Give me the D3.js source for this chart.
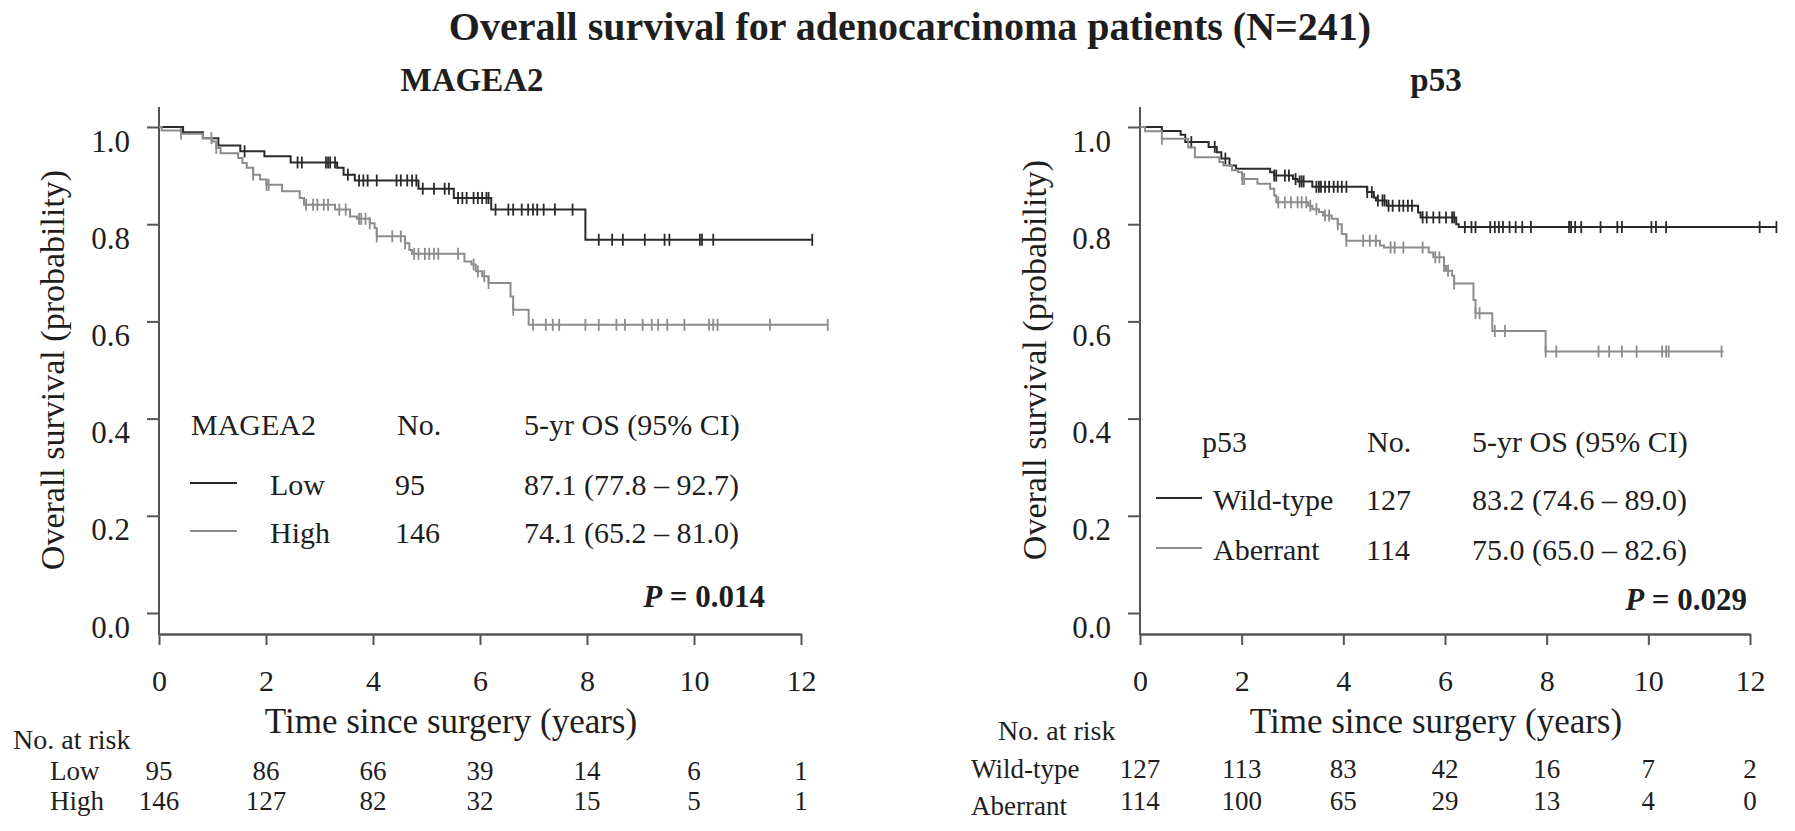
<!DOCTYPE html>
<html>
<head>
<meta charset="utf-8">
<script src="https://cdn.jsdelivr.net/npm/d3@7/dist/d3.min.js"></script>
<style>
  html, body { margin: 0; padding: 0; background: #fff; }
  svg { display: block; }
  text { font-family: "Liberation Serif", "Times New Roman", serif; fill: #1e1e1e; }
</style>
</head>
<body>
<svg id="chart" width="1795" height="831"></svg>
<script>
// ---------------- DATA ----------------
const timeTicks = [0, 2, 4, 6, 8, 10, 12];
const probTicks = [0, 0.2, 0.4, 0.6, 0.8, 1.0];

// MAGEA2 Low: [time (years), survival after event]
const magea2LowSteps = [[0.45,0.989],[0.82,0.977],[1.11,0.962],[1.52,0.950],[1.97,0.940],[2.46,0.927],
  [3.33,0.916],[3.45,0.902],[3.66,0.890],[4.85,0.873],[5.51,0.854],[6.21,0.830],[7.97,0.768]];
const magea2LowCensor = [1.6,2.59,2.67,3.12,3.16,3.2,3.29,3.53,3.74,3.82,3.9,4.07,4.44,4.52,4.64,4.73,4.81,
  4.93,5.14,5.34,5.42,5.59,5.67,5.75,5.88,5.96,6.04,6.12,6.16,6.29,6.53,6.62,6.78,6.9,6.99,7.07,7.19,7.4,7.73,
  8.22,8.47,8.67,9.08,9.45,9.54,10.11,10.15,10.36,12.21];
const magea2LowEnd = 12.21;

// MAGEA2 High
const magea2HighSteps = [[0.05,0.993],[0.41,0.986],[0.82,0.977],[1.0,0.970],[1.07,0.957],[1.15,0.946],
  [1.48,0.936],[1.56,0.926],[1.64,0.916],[1.76,0.902],[1.89,0.892],[2.01,0.881],[2.30,0.868],[2.63,0.854],
  [2.71,0.840],[3.29,0.830],[3.57,0.816],[3.70,0.811],[3.94,0.802],[4.03,0.792],[4.07,0.775],[4.60,0.761],
  [4.68,0.747],[4.73,0.739],[5.71,0.723],[5.84,0.717],[5.92,0.703],[6.04,0.693],[6.16,0.679],[6.57,0.651],
  [6.62,0.624],[6.91,0.593]];
const magea2HighCensor = [0.41,0.98,1.07,1.76,2.01,2.05,2.75,2.88,2.96,3.08,3.16,3.37,3.49,3.74,3.78,3.86,3.94,
  4.07,4.36,4.52,4.60,4.77,4.85,4.97,5.05,5.14,5.22,5.59,5.88,5.96,6.08,6.16,6.62,6.99,7.23,7.36,7.48,7.97,8.22,
  8.55,8.71,9.04,9.21,9.33,9.5,9.82,10.28,10.36,10.44,11.42,12.5];
const magea2HighEnd = 12.5;

// p53 Wild-type
const p53WildSteps = [[0.43,0.992],[0.80,0.984],[0.89,0.969],[1.35,0.959],[1.51,0.948],[1.60,0.935],
  [1.76,0.921],[1.89,0.914],[2.56,0.907],[2.64,0.900],[3.01,0.893],[3.10,0.888],[3.39,0.877],[4.47,0.866],
  [4.60,0.855],[4.64,0.849],[4.85,0.838],[5.47,0.824],[5.52,0.814],[6.22,0.800],[6.27,0.794]];
const p53WildCensor = [1.01,1.47,1.68,2.64,2.68,2.85,2.93,3.06,3.14,3.18,3.22,3.47,3.52,3.56,3.64,3.72,3.81,
  3.89,3.97,4.06,4.47,4.56,4.68,4.77,4.81,4.89,4.97,5.1,5.18,5.27,5.35,5.56,5.64,5.77,5.89,6.02,6.14,6.18,
  6.39,6.52,6.6,6.89,6.98,7.06,7.14,7.27,7.39,7.52,7.69,8.44,8.48,8.56,8.68,9.06,9.39,9.48,10.06,10.15,10.35,
  12.19,12.52];
const p53WildEnd = 12.52;

// p53 Aberrant
const p53AberrantSteps = [[0.10,0.991],[0.43,0.976],[0.95,0.958],[1.08,0.938],[1.56,0.928],[1.64,0.921],
  [1.81,0.911],[1.93,0.907],[2.01,0.893],[2.31,0.883],[2.56,0.873],[2.64,0.859],[2.68,0.845],[3.31,0.838],
  [3.39,0.831],[3.52,0.825],[3.60,0.818],[3.77,0.811],[3.89,0.800],[3.97,0.780],[4.06,0.766],[4.72,0.756],
  [4.80,0.752],[5.68,0.742],[5.77,0.732],[5.98,0.714],[6.02,0.704],[6.14,0.694],[6.18,0.678],[6.56,0.644],
  [6.60,0.617],[6.93,0.580],[7.98,0.538]];
const p53AberrantCensor = [0.43,2.01,2.05,2.72,2.85,2.97,3.1,3.18,3.27,3.35,3.47,3.64,3.72,3.89,4.06,4.39,4.52,
  4.64,4.93,5.01,5.18,5.56,5.81,5.89,5.98,6.06,6.18,6.6,6.68,6.98,7.18,7.98,8.19,9.02,9.23,9.48,9.77,10.27,
  10.35,10.4,11.44];
const p53AberrantEnd = 11.48;

// Numbers at risk
const riskLow = [95, 86, 66, 39, 14, 6, 1];
const riskHigh = [146, 127, 82, 32, 15, 5, 1];
const riskWild = [127, 113, 83, 42, 16, 7, 2];
const riskAberrant = [114, 100, 65, 29, 13, 4, 0];

// Legend tables
const magea2Groups = ["Low", "High"];
const magea2N = [95, 146];
const magea2OS = ["87.1 (77.8 \u2013 92.7)", "74.1 (65.2 \u2013 81.0)"];
const p53Groups = ["Wild-type", "Aberrant"];
const p53N = [127, 114];
const p53OS = ["83.2 (74.6 \u2013 89.0)", "75.0 (65.0 \u2013 82.6)"];
const pValues = ["0.014", "0.029"];

// ---------------- DRAWING ----------------
const DARK = "#2a2a2a", GRAY = "#8c8c8c", AXIS = "#555";
const svg = d3.select("#chart");

svg.append("text").attr("x", 910).attr("y", 40).attr("text-anchor", "middle")
  .attr("font-size", 40).attr("font-weight", "bold")
  .text("Overall survival for adenocarcinoma patients (N=241)");

function stepAt(steps, t) {
  let s = 1;
  for (const [tt, ss] of steps) { if (tt <= t) s = ss; else break; }
  return s;
}

function drawPanel(cfg) {
  const x = d3.scaleLinear().domain([0, 12]).range([cfg.x0, cfg.x1]);
  const y = d3.scaleLinear().domain([0, 1]).range([613, 127]);
  const g = svg.append("g");

  // panel title
  g.append("text").attr("x", cfg.titleX).attr("y", 91).attr("text-anchor", "middle")
    .attr("font-size", 33).attr("font-weight", "bold").text(cfg.title);

  // y axis
  const yAx = g.append("g").attr("transform", `translate(${cfg.x0},0)`)
    .call(d3.axisLeft(y).tickValues(probTicks).tickFormat(d3.format(".1f")).tickSize(12).tickPadding(17).tickSizeOuter(0));
  yAx.select(".domain").remove();
  yAx.selectAll(".tick line").attr("stroke", AXIS).attr("stroke-width", 2);
  yAx.selectAll(".tick text").attr("font-size", 31).attr("dy", "0.78em")
    .attr("font-family", "Liberation Serif").attr("fill", "#1e1e1e");
  g.append("line").attr("x1", cfg.x0).attr("x2", cfg.x0).attr("y1", 107).attr("y2", 635)
    .attr("stroke", AXIS).attr("stroke-width", 2);

  // x axis
  const xAx = g.append("g").attr("transform", `translate(0,634)`)
    .call(d3.axisBottom(x).tickValues(timeTicks).tickFormat(d3.format("d")).tickSize(11).tickSizeOuter(0));
  xAx.select(".domain").attr("stroke", AXIS).attr("stroke-width", 2.5);
  xAx.selectAll(".tick line").attr("stroke", AXIS).attr("stroke-width", 2);
  xAx.selectAll(".tick text").attr("font-size", 30).attr("y", 57).attr("dy", 0)
    .attr("font-family", "Liberation Serif").attr("fill", "#1e1e1e");

  // axis titles
  g.append("text").attr("x", cfg.xTitleX).attr("y", 733).attr("text-anchor", "middle")
    .attr("font-size", 35).text("Time since surgery (years)");
  g.append("text").attr("transform", `translate(${cfg.yTitleX},${cfg.yTitleY}) rotate(-90)`)
    .attr("text-anchor", "middle").attr("font-size", 34).text("Overall survival (probability)");

  // curves
  const line = d3.line().x(d => x(d[0])).y(d => y(d[1])).curve(d3.curveStepAfter);
  cfg.series.forEach(s => {
    const pts = [[0, 1], ...s.steps, [s.end, s.steps[s.steps.length - 1][1]]];
    g.append("path").attr("d", line(pts)).attr("fill", "none")
      .attr("stroke", s.color).attr("stroke-width", 2);
    g.append("g").selectAll("line").data(s.censor).join("line")
      .attr("x1", d => x(d)).attr("x2", d => x(d))
      .attr("y1", d => y(stepAt(s.steps, d)) - 6).attr("y2", d => y(stepAt(s.steps, d)) + 6)
      .attr("stroke", s.color).attr("stroke-width", 1.8);
  });

  // legend table
  const L = cfg.legend;
  const lg = g.append("g").attr("font-size", 30);
  lg.append("text").attr("x", L.headX).attr("y", L.headY).text(cfg.title);
  lg.append("text").attr("x", L.noX).attr("y", L.headY).text("No.");
  lg.append("text").attr("x", L.osX).attr("y", L.headY).text("5-yr OS (95% CI)");
  cfg.groups.forEach((grp, i) => {
    const by = L.rowY[i];
    lg.append("line").attr("x1", L.lineX0).attr("x2", L.lineX1).attr("y1", by - 12).attr("y2", by - 12)
      .attr("stroke", cfg.series[i].color).attr("stroke-width", 2);
    lg.append("text").attr("x", L.labX).attr("y", by).text(grp);
    lg.append("text").attr("x", L.nX).attr("y", by).text(cfg.n[i]);
    lg.append("text").attr("x", L.osX).attr("y", by).text(cfg.os[i]);
  });
  const pt = lg.append("text").attr("x", L.pX).attr("y", L.pY).attr("text-anchor", "end")
    .attr("font-weight", "bold").attr("font-size", 31);
  pt.append("tspan").attr("font-style", "italic").text("P");
  pt.append("tspan").text(" = " + cfg.p);

  // risk table
  const R = cfg.risk;
  const rg = g.append("g").attr("font-size", 27);
  rg.append("text").attr("x", R.headX).attr("y", R.headY).attr("font-size", 28).text("No. at risk");
  cfg.groups.forEach((grp, i) => {
    rg.append("text").attr("x", R.labX).attr("y", R.labY[i]).text(grp);
    rg.append("g").selectAll("text").data(cfg.riskVals[i]).join("text")
      .attr("x", (d, j) => x(timeTicks[j])).attr("y", R.rowY[i]).attr("text-anchor", "middle")
      .text(d => d);
  });
}

drawPanel({
  title: "MAGEA2", titleX: 472, x0: 159, x1: 801, xTitleX: 451, yTitleX: 64, yTitleY: 370,
  series: [
    { steps: magea2LowSteps, censor: magea2LowCensor, end: magea2LowEnd, color: DARK },
    { steps: magea2HighSteps, censor: magea2HighCensor, end: magea2HighEnd, color: GRAY }
  ],
  groups: magea2Groups, n: magea2N, os: magea2OS, p: pValues[0],
  legend: { headX: 191, headY: 435, noX: 397, osX: 524, rowY: [495, 543], lineX0: 190, lineX1: 237,
            labX: 270, nX: 395, pX: 765, pY: 607 },
  risk: { headX: 13, headY: 749, labX: 50, labY: [780, 810], rowY: [780, 810] },
  riskVals: [riskLow, riskHigh]
});

drawPanel({
  title: "p53", titleX: 1436, x0: 1140, x1: 1750, xTitleX: 1436, yTitleX: 1046, yTitleY: 360,
  series: [
    { steps: p53WildSteps, censor: p53WildCensor, end: p53WildEnd, color: DARK },
    { steps: p53AberrantSteps, censor: p53AberrantCensor, end: p53AberrantEnd, color: GRAY }
  ],
  groups: p53Groups, n: p53N, os: p53OS, p: pValues[1],
  legend: { headX: 1202, headY: 452, noX: 1367, osX: 1472, rowY: [510, 560], lineX0: 1156, lineX1: 1202,
            labX: 1213, nX: 1366, pX: 1747, pY: 610 },
  risk: { headX: 998, headY: 740, labX: 971, labY: [778, 815], rowY: [778, 810] },
  riskVals: [riskWild, riskAberrant]
});
</script>
</body>
</html>
